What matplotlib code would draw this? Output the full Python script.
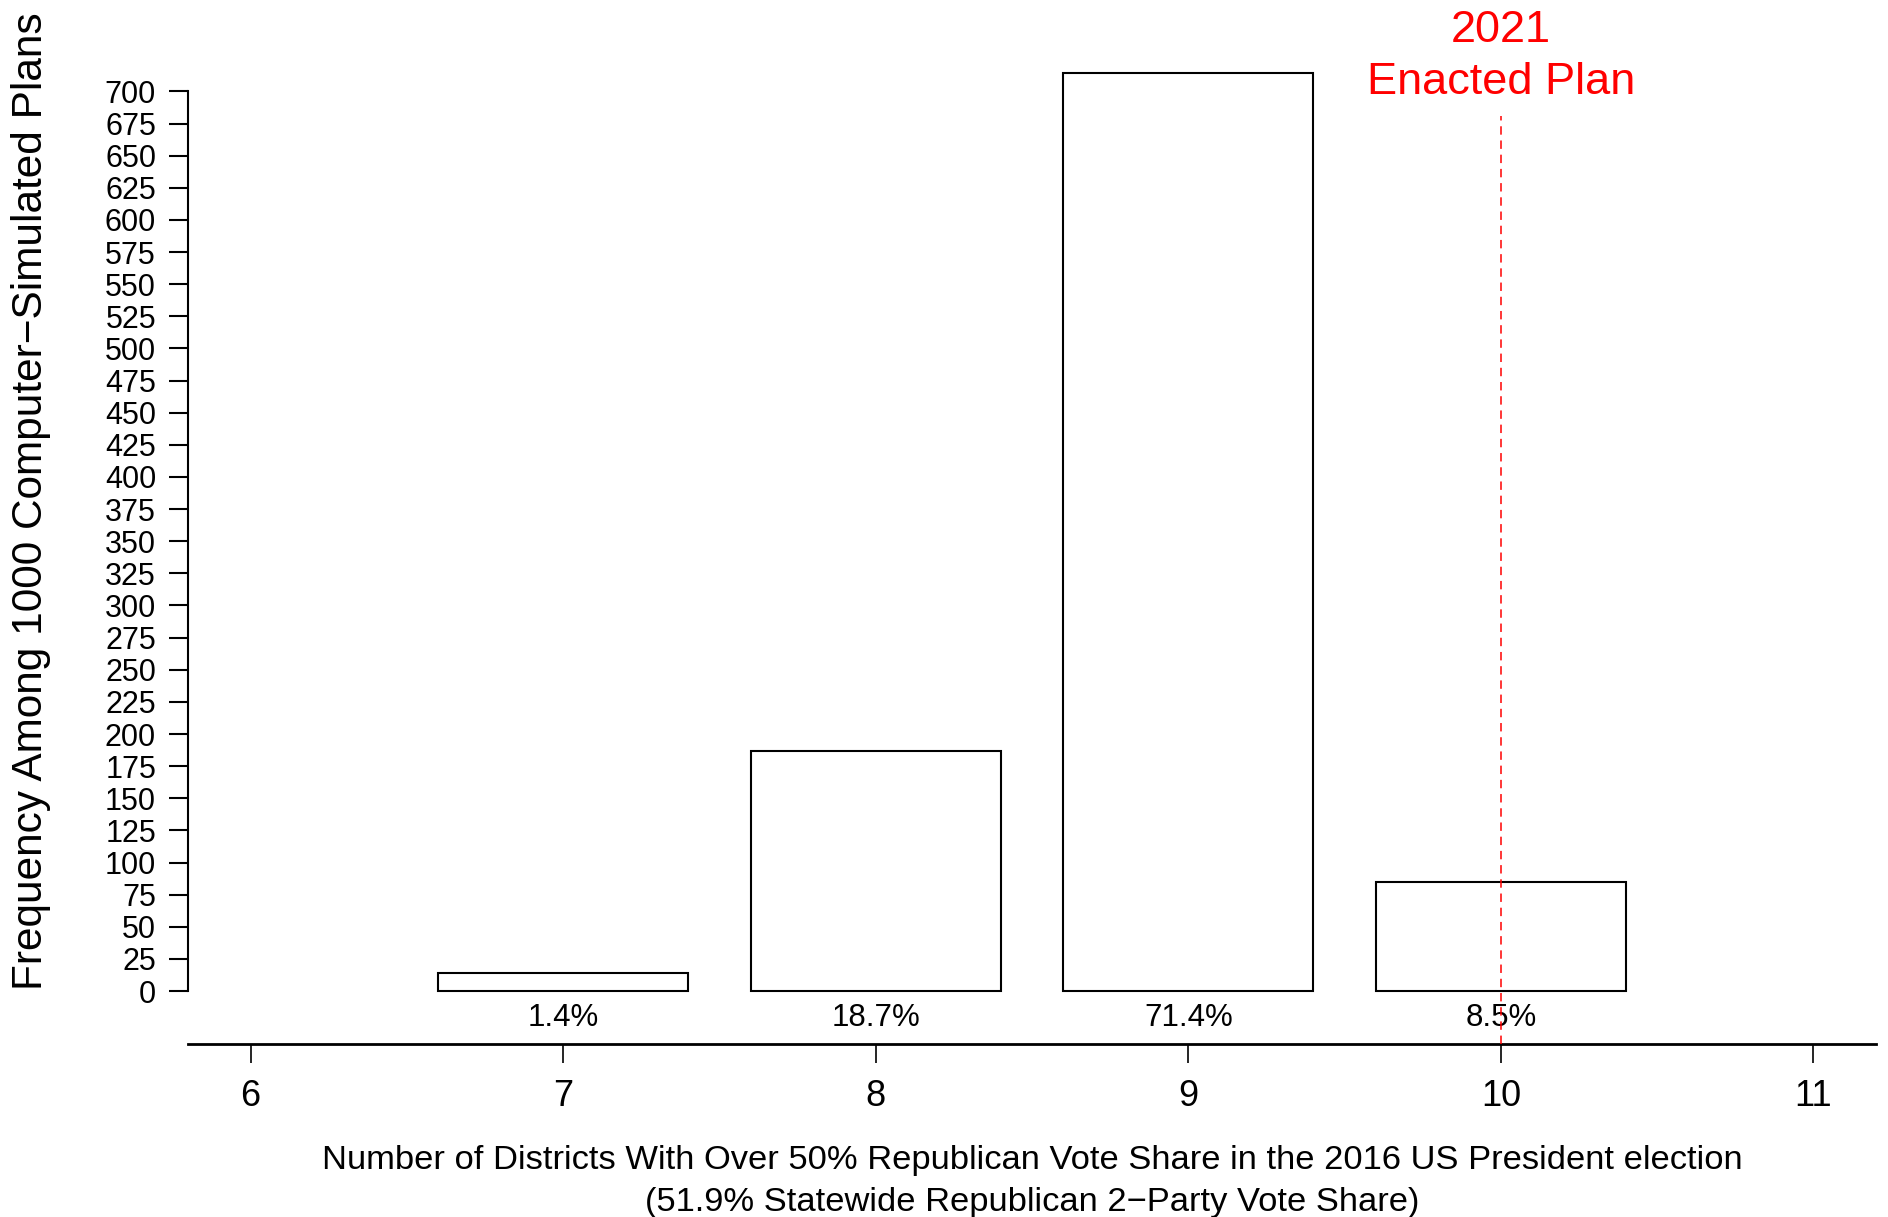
import matplotlib
matplotlib.use("Agg")
import matplotlib.pyplot as plt
import matplotlib.transforms as mtransforms
import numpy as np

plt.rcParams['font.family'] = ['Liberation Sans', 'DejaVu Sans']

# Data
districts = [7, 8, 9, 10]
frequency = [14, 187, 714, 85]
pct_labels = ["1.4%", "18.7%", "71.4%", "8.5%"]
x_ticks = [6, 7, 8, 9, 10, 11]
y_ticks = list(range(0, 701, 25))
enacted = 10
enacted_label = "2021\nEnacted Plan"

W, H = 1888, 1217
fig = plt.figure(figsize=(W / 100, H / 100), dpi=100)

# axes placement in pixels
left_px, right_px = 188, 1876
bottom_px, top_px = 1044, 40
ax = fig.add_axes([left_px / W, (H - bottom_px) / H,
                   (right_px - left_px) / W, (bottom_px - top_px) / H])

ax.set_xlim(5.8, 11.2)
ax.set_ylim(-41.2, 740)

ax.bar(districts, frequency, width=0.8, facecolor='white',
       edgecolor='black', linewidth=1.5, zorder=2)

for x, lab in zip(districts, pct_labels):
    ax.text(x, -20.6, lab, ha='center', va='center', fontsize=22.5, zorder=3)

# enacted plan line
ax.plot([enacted, enacted], [-41.2, 681], color='red', linewidth=1.1,
        linestyle=(0, (5.5, 3.8)), zorder=4, clip_on=False)
trans = mtransforms.blended_transform_factory(ax.transData, fig.transFigure)
lines = enacted_label.split("\n")
ax.text(enacted, 1 - 31 / H, lines[0], transform=trans, ha='center',
        va='center', color='red', fontsize=32.5)
ax.text(enacted, 1 - 83 / H, lines[1], transform=trans, ha='center',
        va='center', color='red', fontsize=32.5)

# spines
for s in ['top', 'right']:
    ax.spines[s].set_visible(False)
ax.spines['left'].set_bounds(0, 700)
ax.spines['left'].set_linewidth(1.5)
ax.spines['bottom'].set_linewidth(2)

ax.set_yticks(y_ticks)
ax.set_yticklabels([str(v) for v in y_ticks], fontsize=22)
ax.set_xticks(x_ticks)
ax.set_xticklabels([str(v) for v in x_ticks], fontsize=26)
ax.tick_params(axis='y', length=14, width=1.5, pad=9, direction='out')
ax.tick_params(axis='x', length=13.5, width=1.2, pad=12, direction='out')

fig.text(31 / W, 1 - 501 / H,
         "Frequency Among 1000 Computer\u2212Simulated Plans",
         rotation=90, ha='center', va='center', fontsize=30.5)

xc = ((left_px + right_px) / 2) / W
fig.text(xc, 1 - 1160 / H,
         "Number of Districts With Over 50% Republican Vote Share in the 2016 US President election",
         ha='center', va='center', fontsize=24.8)
fig.text(xc, 1 - 1202 / H,
         "(51.9% Statewide Republican 2\u2212Party Vote Share)",
         ha='center', va='center', fontsize=24.8)

fig.savefig("out.png", dpi=100)
